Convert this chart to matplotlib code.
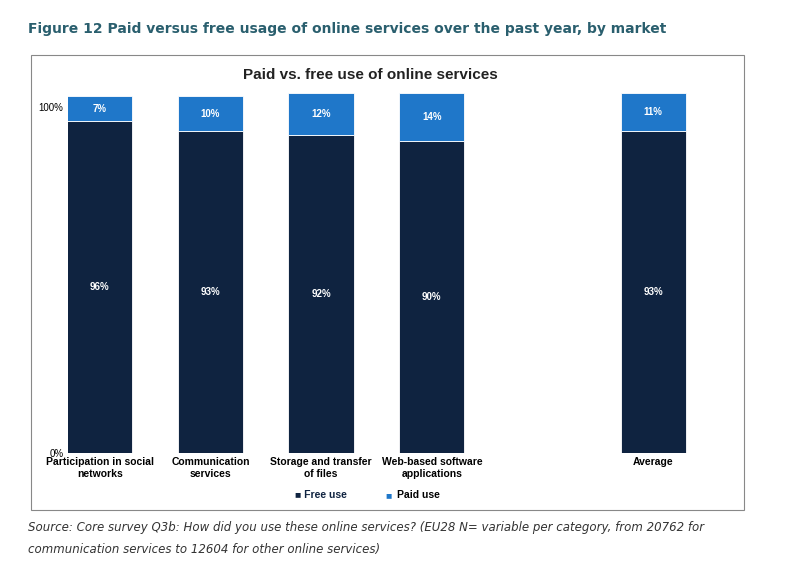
import matplotlib.pyplot as plt
from matplotlib.patches import Rectangle

categories = ["Participation in social\nnetworks", "Communication\nservices",
              "Storage and transfer\nof files", "Web-based software\napplications", "Average"]
positions = [0, 1, 2, 3, 5]
free_use = [96, 93, 92, 90, 93]
paid_use = [7, 10, 12, 14, 11]

navy = "#0f2340"
blue = "#1f77c9"

fig = plt.figure(figsize=(7.87, 5.76), dpi=100)
fig.text(0.035, 0.942, "Figure 12 Paid versus free usage of online services over the past year, by market",
         fontsize=10, fontweight="bold", color="#2a5f6e", family="DejaVu Sans")

# chart frame
fig.patches.append(Rectangle((0.04, 0.115), 0.905, 0.79, transform=fig.transFigure,
                             fill=False, edgecolor="#888888", linewidth=0.8))
fig.text(0.47, 0.862, "Paid vs. free use of online services", ha="center",
         fontsize=11, fontweight="bold", family="Liberation Sans", color="#222222")

ax = fig.add_axes([0.086, 0.2135, 0.841, 0.625])
ax.bar(positions, free_use, width=0.59, color=navy, edgecolor="white", linewidth=0.6)
ax.bar(positions, paid_use, bottom=free_use, width=0.59, color=blue, edgecolor="white", linewidth=0.6)
for x, f, p in zip(positions, free_use, paid_use):
    ax.text(x, f / 2, f"{f}%", ha="center", va="center", color="white", fontsize=7, fontweight="bold",
            family="Liberation Sans")
    ax.text(x, f + p / 2, f"{p}%", ha="center", va="center", color="white", fontsize=7, fontweight="bold",
            family="Liberation Sans")

ax.set_xlim(-0.29, 5.69)
ax.set_ylim(0, 104)
ax.set_yticks([0, 100])
ax.set_yticklabels(["0%", "100%"], fontsize=7, family="Liberation Sans")
ax.set_xticks(positions)
ax.set_xticklabels(categories, fontsize=7.5, fontweight="bold", family="Liberation Sans")
ax.tick_params(axis="both", length=0, pad=3)
for s in ["top", "right", "bottom", "left"]:
    ax.spines[s].set_visible(False)

fig.text(0.375, 0.135, "\u25a0 Free use", color=navy, fontsize=7.5, fontweight="bold",
         family="Liberation Sans", ha="left")
fig.text(0.49, 0.135, "\u25a0", color=blue, fontsize=7.5, fontweight="bold",
         family="Liberation Sans", ha="left")
fig.text(0.505, 0.135, "Paid use", color="black", fontsize=7.5, fontweight="bold",
         family="Liberation Sans", ha="left")

fig.text(0.035, 0.078, "Source: Core survey Q3b: How did you use these online services? (EU28 N= variable per category, from 20762 for",
         fontsize=8.5, style="italic", color="#333333", family="DejaVu Sans")
fig.text(0.035, 0.04, "communication services to 12604 for other online services)",
         fontsize=8.5, style="italic", color="#333333", family="DejaVu Sans")

fig.savefig("out.png", dpi=100)
